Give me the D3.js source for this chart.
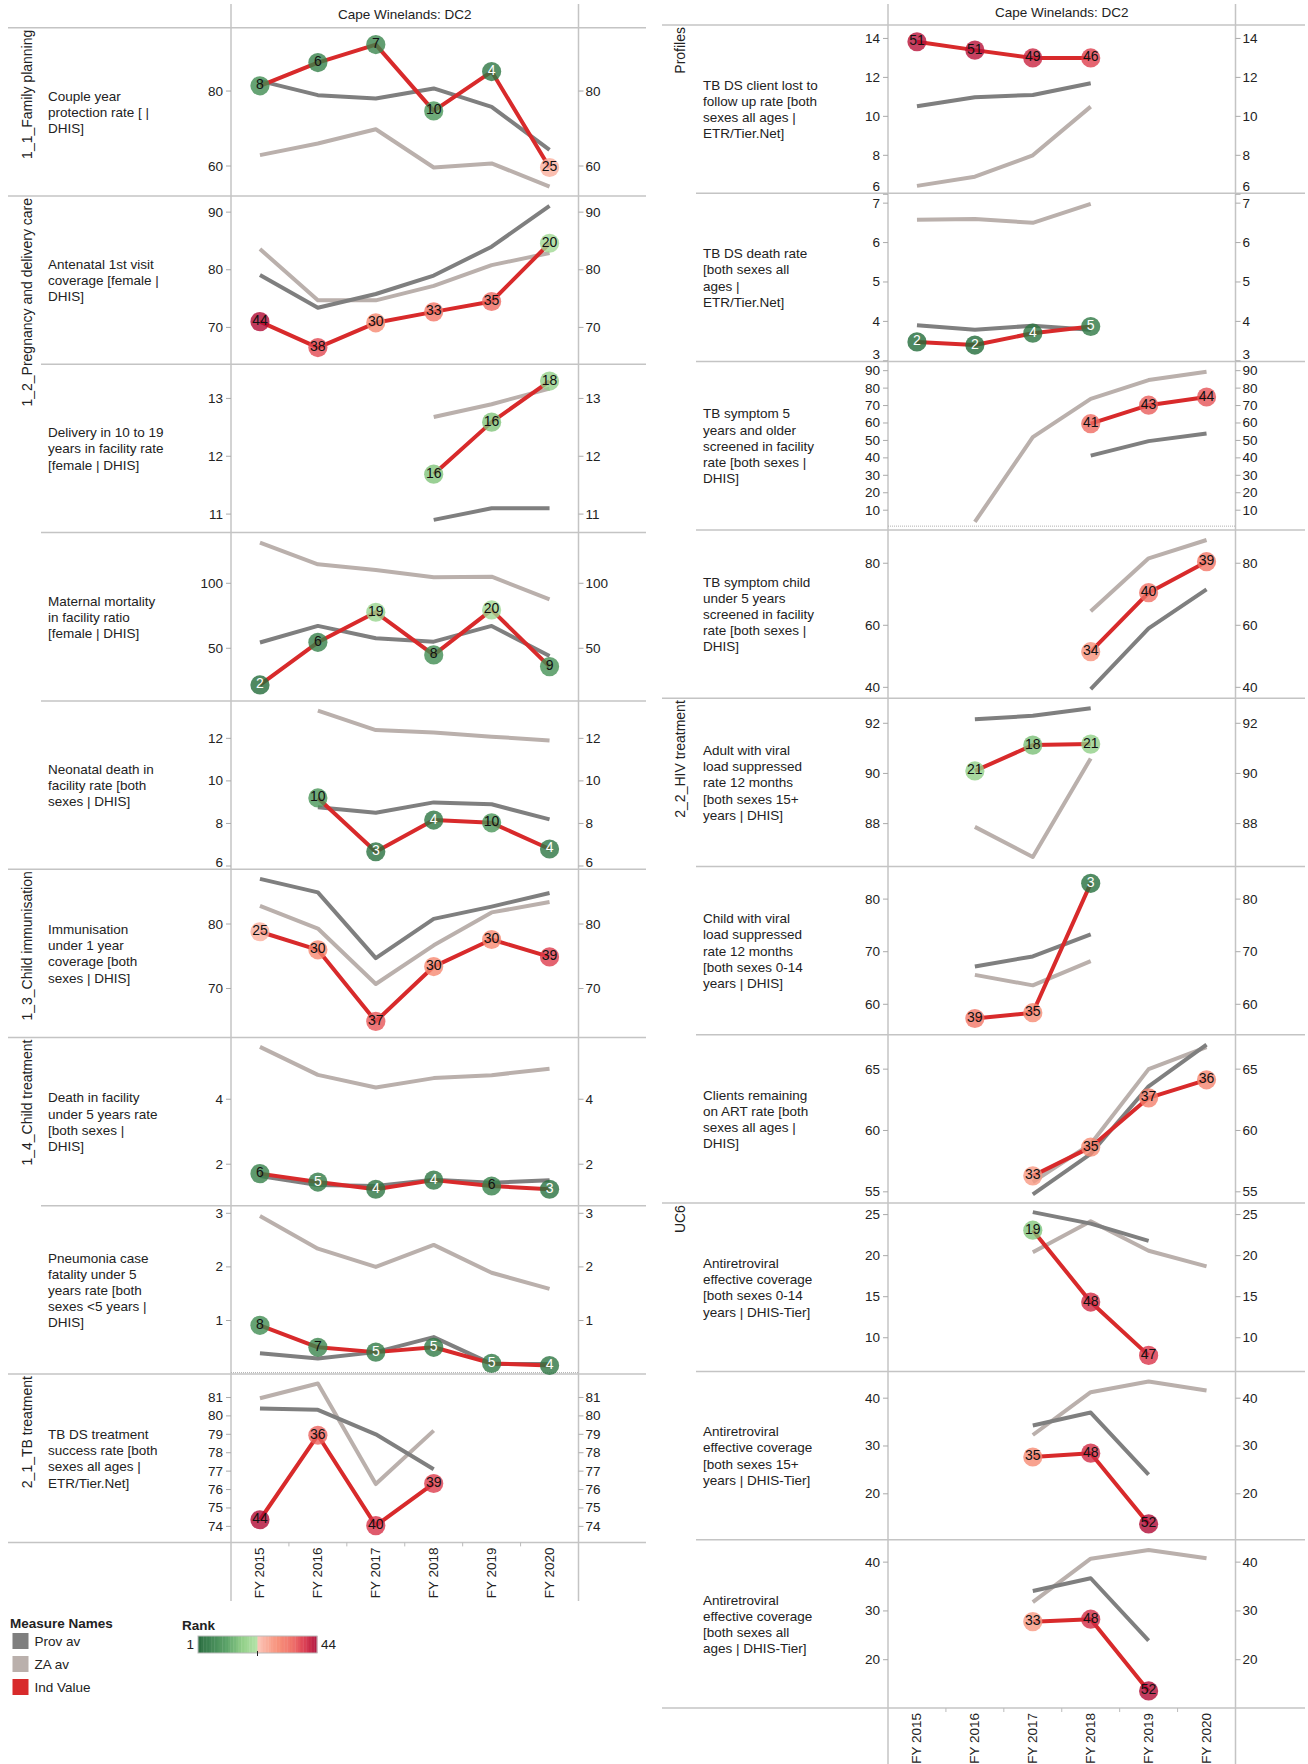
<!DOCTYPE html>
<html><head><meta charset="utf-8">
<script src="https://cdn.jsdelivr.net/npm/d3@7"></script>
<style>
body{margin:0;background:#fff}
text{font-family:"Liberation Sans",Arial,sans-serif;fill:#222}
</style>
</head><body>
<svg id="c" width="1308" height="1764"></svg>
<script>
// ---------------- DATA ----------------
const years = ["FY 2015","FY 2016","FY 2017","FY 2018","FY 2019","FY 2020"];
const headerTitle = "Cape Winelands: DC2";
const seriesNames = ["Prov av","ZA av","Ind Value"];
const rankLegendTicks = [1, 44];
const rankMax = [44, 52]; // number of districts ranked, left / right panel

// Left panel
const leftLabels = [
  ["Couple year","protection rate [ |","DHIS]"],
  ["Antenatal 1st visit","coverage [female |","DHIS]"],
  ["Delivery in 10 to 19","years in facility rate","[female | DHIS]"],
  ["Maternal mortality","in facility ratio","[female | DHIS]"],
  ["Neonatal death in","facility rate [both","sexes | DHIS]"],
  ["Immunisation","under 1 year","coverage [both","sexes | DHIS]"],
  ["Death in facility","under 5 years rate","[both sexes |","DHIS]"],
  ["Pneumonia case","fatality under 5","years rate [both","sexes <5 years |","DHIS]"],
  ["TB DS treatment","success rate [both","sexes all ages |","ETR/Tier.Net]"]
];
const leftGroups = ["1_1_Family planning","1_2_Pregnancy and delivery care","1_3_Child immunisation","1_4_Child treatment","2_1_TB treatment"];
const leftGroupStart = [0,1,5,6,8];
const leftProv = [
  [82.7,78.9,78.0,80.7,75.8,64.3],
  [79.1,73.4,75.8,79.0,84.0,91.1],
  [null,null,null,10.90,11.10,11.10],
  [54.4,67.2,57.7,55.1,67.2,44.1],
  [null,8.76,8.5,8.99,8.9,8.19],
  [87.0,84.9,74.7,80.8,82.7,84.8],
  [1.64,1.36,1.33,1.52,1.43,1.51],
  [0.39,0.29,0.41,0.69,0.19,0.19],
  [80.4,80.33,79.0,77.1,null,null]
];
const leftZA = [
  [62.9,66.0,69.8,59.6,60.7,54.5],
  [83.6,74.7,74.7,77.2,80.8,82.9],
  [null,null,null,12.68,12.90,13.17],
  [131.3,114.6,110.3,104.6,105.1,87.7],
  [null,13.3,12.39,12.27,12.08,11.9],
  [82.8,79.3,70.7,76.7,81.8,83.4],
  [5.61,4.75,4.36,4.65,4.74,4.94],
  [2.95,2.34,2.0,2.41,1.89,1.59],
  [80.96,81.76,76.3,79.2,null,null]
];
const leftInd = [
  [81.4,87.6,92.4,74.7,85.2,59.6],
  [71.0,66.5,70.8,72.7,74.5,84.6],
  [null,null,null,11.69,12.59,13.30],
  [21.8,54.6,77.7,44.9,79.5,35.9],
  [null,9.2,6.67,8.16,8.03,6.8],
  [78.8,76.0,64.9,73.4,77.6,74.9],
  [1.71,1.45,1.23,1.51,1.33,1.23],
  [0.91,0.5,0.41,0.5,0.2,0.16],
  [74.36,78.95,74.04,76.33,null,null]
];
const leftRank = [
  [8,6,7,10,4,25],
  [44,38,30,33,35,20],
  [null,null,null,16,16,18],
  [2,6,19,8,20,9],
  [null,10,3,4,10,4],
  [25,30,37,30,30,39],
  [6,5,4,4,6,3],
  [8,7,5,5,5,4],
  [44,36,40,39,null,null]
];
const leftDomain = [[52.0,96.9],[63.6,92.8],[10.68,13.59],[9.5,139],[5.85,13.76],[62.4,88.5],[0.72,5.9],[0,3.14],[73.13,82.27]];
const leftTicks = [[60,80],[70,80,90],[11,12,13],[50,100],[6,8,10,12],[70,80],[2,4],[1,2,3],[74,75,76,77,78,79,80,81]];

// Right panel
const rightLabels = [
  ["TB DS client lost to","follow up rate [both","sexes all ages |","ETR/Tier.Net]"],
  ["TB DS death rate","[both sexes all","ages |","ETR/Tier.Net]"],
  ["TB symptom 5","years and older","screened in facility","rate [both sexes |","DHIS]"],
  ["TB symptom child","under 5 years","screened in facility","rate [both sexes |","DHIS]"],
  ["Adult with viral","load suppressed","rate 12 months","[both sexes 15+","years | DHIS]"],
  ["Child with viral","load suppressed","rate 12 months","[both sexes 0-14","years | DHIS]"],
  ["Clients remaining","on ART rate [both","sexes all ages |","DHIS]"],
  ["Antiretroviral","effective coverage","[both sexes 0-14","years | DHIS-Tier]"],
  ["Antiretroviral","effective coverage","[both sexes 15+","years | DHIS-Tier]"],
  ["Antiretroviral","effective coverage","[both sexes all","ages | DHIS-Tier]"]
];
const rightGroups = ["Profiles","2_2_HIV treatment","UC6"];
const rightGroupStart = [0,4,7];
const rightProv = [
  [10.52,10.98,11.1,11.7,null,null],
  [3.9,3.79,3.89,3.79,null,null],
  [null,null,null,41.3,49.6,54.0],
  [null,null,null,39.4,59.0,71.6],
  [null,92.16,92.3,92.6,null,null],
  [null,67.2,69.1,73.3,null,null],
  [null,null,54.8,58.1,63.6,67.0],
  [null,null,25.3,23.9,21.8,null],
  [null,null,34.3,37.0,24.0,null],
  [null,null,34.1,36.7,23.9,null]
];
const rightZA = [
  [6.43,6.9,8.0,10.5,null,null],
  [6.58,6.6,6.5,6.98,null,null],
  [null,3.3,51.9,73.8,84.6,89.4],
  [null,null,null,64.5,81.6,87.5],
  [null,87.87,86.67,90.6,null,null],
  [null,65.6,63.6,68.2,null,null],
  [null,null,55.8,58.9,65.0,66.8],
  [null,null,20.4,24.2,20.6,18.7],
  [null,null,32.3,41.25,43.5,41.6],
  [null,null,31.8,40.7,42.5,40.8]
];
const rightInd = [
  [13.83,13.4,13.0,13.0,null,null],
  [3.48,3.4,3.70,3.87,null,null],
  [null,null,null,59.6,70.2,74.9],
  [null,null,null,51.5,70.5,80.5],
  [null,90.1,91.13,91.17,null,null],
  [null,57.3,58.4,83.0,null,null],
  [null,null,56.3,58.64,62.66,64.13],
  [null,null,23.1,14.35,7.85,null],
  [null,null,27.7,28.5,13.7,null],
  [null,null,27.8,28.3,13.6,null]
];
const rightRank = [
  [51,51,49,46,null,null],
  [2,2,4,5,null,null],
  [null,null,null,41,43,44],
  [null,null,null,34,40,39],
  [null,21,18,21,null,null],
  [null,39,35,3,null,null],
  [null,null,33,35,37,36],
  [null,null,19,48,47,null],
  [null,null,35,48,52,null],
  [null,null,33,48,52,null]
];
const rightDomain = [[6.05,14.69],[2.98,7.25],[-1.3,95.2],[36.5,90.75],[86.29,93.0],[54.2,86.2],[54.08,67.8],[5.9,26.4],[10.4,45.6],[10.1,44.6]];
const rightTicks = [[6,8,10,12,14],[3,4,5,6,7],[10,20,30,40,50,60,70,80,90],[40,60,80],[88,90,92],[60,70,80],[55,60,65],[10,15,20,25],[20,30,40],[20,30,40]];

// ---------------- STYLE / LAYOUT ----------------
const colProv = "#7f7f7f", colZA = "#bab0ac", colInd = "#d82a2b";
const gridCol = "#c4c4c4";
const FS = "13.5px";
const greenRamp = d3.scaleLinear().domain([0,0.45,0.75,1]).range(["#1e6636","#4d9a5c","#8ccd82","#b2e2a4"]);
const redRamp = d3.scaleLinear().domain([0,0.35,0.6,0.8,1]).range(["#fcc2b4","#f68870","#ee6860","#da3448","#b00a34"]);
function rankColor(r, n){
  const t = (r-1)/(n-1);
  return t <= 0.5 ? greenRamp(t/0.5) : redRamp(Math.min(1,(t-0.5)/0.5));
}

const svg = d3.select("#c");

const panels = [
  {x0:8, sepX:41, groupX:27, labelX:48, plotL:231, plotR:578.5, rowR:646, top:27.7, rowH:168.3, vBottom:1601,
   labels:leftLabels, groups:leftGroups, gStart:leftGroupStart, prov:leftProv, za:leftZA, ind:leftInd, rank:leftRank,
   domain:leftDomain, ticks:leftTicks, nRank:rankMax[0]},
  {x0:662, sepX:696, groupX:680, labelX:703, plotL:888, plotR:1235.5, rowR:1305, top:25, rowH:168.3, vBottom:1764,
   labels:rightLabels, groups:rightGroups, gStart:rightGroupStart, prov:rightProv, za:rightZA, ind:rightInd, rank:rightRank,
   domain:rightDomain, ticks:rightTicks, nRank:rankMax[1]}
];

panels.forEach(p => {
  const g = svg.append("g");
  const nRows = p.labels.length;
  const x = d3.scaleBand().domain(years).range([p.plotL, p.plotR]).padding(0);
  const cx = d => x(d) + x.bandwidth()/2;
  const axisY = p.top + nRows*p.rowH;

  // header
  g.append("text").attr("x",(p.plotL+p.plotR)/2).attr("y",p.top-8.5)
    .attr("text-anchor","middle").style("font-size","13.5px").text(headerTitle);

  // vertical lines
  [p.plotL, p.plotR].forEach(vx => {
    g.append("line").attr("x1",vx).attr("x2",vx).attr("y1",4).attr("y2",p.vBottom)
      .attr("stroke",gridCol).attr("stroke-width",1.5);
  });

  // horizontal separators
  for (let i = 0; i <= nRows; i++) {
    const yy = p.top + i*p.rowH;
    const isGroup = i === 0 || i === nRows || p.gStart.includes(i);
    g.append("line").attr("x1", isGroup ? p.x0 : p.sepX).attr("x2", p.rowR)
      .attr("y1",yy).attr("y2",yy).attr("stroke",gridCol).attr("stroke-width",1.5);
  }

  // group labels
  p.groups.forEach((name, gi) => {
    const yy = p.top + p.gStart[gi]*p.rowH + 2;
    g.append("text").attr("transform",`translate(${p.groupX},${yy}) rotate(-90)`)
      .attr("text-anchor","end").attr("dominant-baseline","central")
      .style("font-size","14px").text(name);
  });

  // rows
  for (let r = 0; r < nRows; r++) {
    const top = p.top + r*p.rowH, bot = top + p.rowH;
    const y = d3.scaleLinear().domain(p.domain[r]).range([bot, top]);

    // row label
    const lines = p.labels[r];
    const lh = 16.2;
    const y0 = (top+bot)/2 - (lines.length-1)*lh/2;
    const t = g.append("text").style("font-size",FS).attr("dominant-baseline","central");
    lines.forEach((ln, li) => t.append("tspan").attr("x",p.labelX).attr("y",y0+li*lh).text(ln));

    // zero line
    if (p.domain[r][0] <= 0) {
      g.append("line").attr("x1",p.plotL).attr("x2",p.plotR).attr("y1",y(0)-1.5).attr("y2",y(0)-1.5)
        .attr("stroke","#b0b0b0").attr("stroke-width",1).attr("stroke-dasharray","1,1");
    }

    // ticks both sides
    p.ticks[r].forEach(tv => {
      const ty = y(tv);
      const ly = Math.max(top+8, Math.min(bot-7, ty));
      g.append("line").attr("x1",p.plotL-5).attr("x2",p.plotL).attr("y1",ty).attr("y2",ty).attr("stroke","#aaa");
      g.append("line").attr("x1",p.plotR).attr("x2",p.plotR+5).attr("y1",ty).attr("y2",ty).attr("stroke","#aaa");
      g.append("text").attr("x",p.plotL-8).attr("y",ly).attr("text-anchor","end")
        .attr("dominant-baseline","central").style("font-size",FS).text(tv);
      g.append("text").attr("x",p.plotR+7).attr("y",ly).attr("text-anchor","start")
        .attr("dominant-baseline","central").style("font-size",FS).text(tv);
    });

    const line = d3.line().defined(d => d.v != null).x(d => cx(d.yr)).y(d => y(d.v));
    const mk = arr => years.map((yr,i) => ({yr, v: arr[i], rank: p.rank[r][i]}));

    [[p.za[r], colZA], [p.prov[r], colProv], [p.ind[r], colInd]].forEach(([arr,col]) => {
      g.append("path").datum(mk(arr)).attr("d",line).attr("fill","none")
        .attr("stroke",col).attr("stroke-width",4).attr("stroke-linejoin","round");
    });

    const pts = mk(p.ind[r]).filter(d => d.v != null);
    g.selectAll(null).data(pts).enter().append("circle")
      .attr("cx",d => cx(d.yr)).attr("cy",d => y(d.v)).attr("r",9.6)
      .attr("fill",d => rankColor(d.rank, p.nRank)).attr("fill-opacity",0.8);
    g.selectAll(null).data(pts).enter().append("text")
      .attr("x",d => cx(d.yr)).attr("y",d => y(d.v)-1.5)
      .attr("text-anchor","middle").attr("dominant-baseline","central")
      .style("font-size","14px").style("fill",d => d.rank <= 5 ? "#fff" : "#111")
      .text(d => d.rank);
  }

  // x axis
  years.slice(1).forEach(yr => {
    g.append("line").attr("x1",x(yr)).attr("x2",x(yr)).attr("y1",axisY).attr("y2",axisY+4)
      .attr("stroke","#bbb");
  });
  years.forEach(yr => {
    g.append("text").attr("transform",`translate(${cx(yr)},${axisY+5}) rotate(-90)`)
      .attr("text-anchor","end").attr("dominant-baseline","central")
      .style("font-size",FS).text(yr);
  });
});

// ---------------- LEGENDS ----------------
const lg = svg.append("g");
lg.append("text").attr("x",10).attr("y",1628).style("font-size",FS).style("font-weight","bold").text("Measure Names");
[colProv, colZA, colInd].forEach((c,i) => {
  const yy = 1633 + i*23;
  lg.append("rect").attr("x",12.5).attr("y",yy).attr("width",16).attr("height",16).attr("fill",c);
  lg.append("text").attr("x",34.5).attr("y",yy+8).attr("dominant-baseline","central").style("font-size",FS).text(seriesNames[i]);
});

lg.append("text").attr("x",182).attr("y",1630).style("font-size",FS).style("font-weight","bold").text("Rank");
const ranks = d3.range(rankLegendTicks[0], rankLegendTicks[1]+1);
const bx = d3.scaleBand().domain(ranks).range([198,317]);
lg.selectAll(null).data(ranks).enter().append("rect")
  .attr("x",d => bx(d)).attr("y",1636).attr("width",bx.bandwidth()+0.3).attr("height",17)
  .attr("fill",d => rankColor(d, rankMax[0])).attr("fill-opacity",0.92);
lg.append("rect").attr("x",198).attr("y",1636).attr("width",119).attr("height",17)
  .attr("fill","none").attr("stroke","#bbb").attr("stroke-width",1);
lg.append("line").attr("x1",257.5).attr("x2",257.5).attr("y1",1651).attr("y2",1656).attr("stroke","#222");
lg.append("text").attr("x",194).attr("y",1644.5).attr("text-anchor","end").attr("dominant-baseline","central").style("font-size",FS).text(rankLegendTicks[0]);
lg.append("text").attr("x",321).attr("y",1644.5).attr("dominant-baseline","central").style("font-size",FS).text(rankLegendTicks[1]);
</script>
</body></html>
